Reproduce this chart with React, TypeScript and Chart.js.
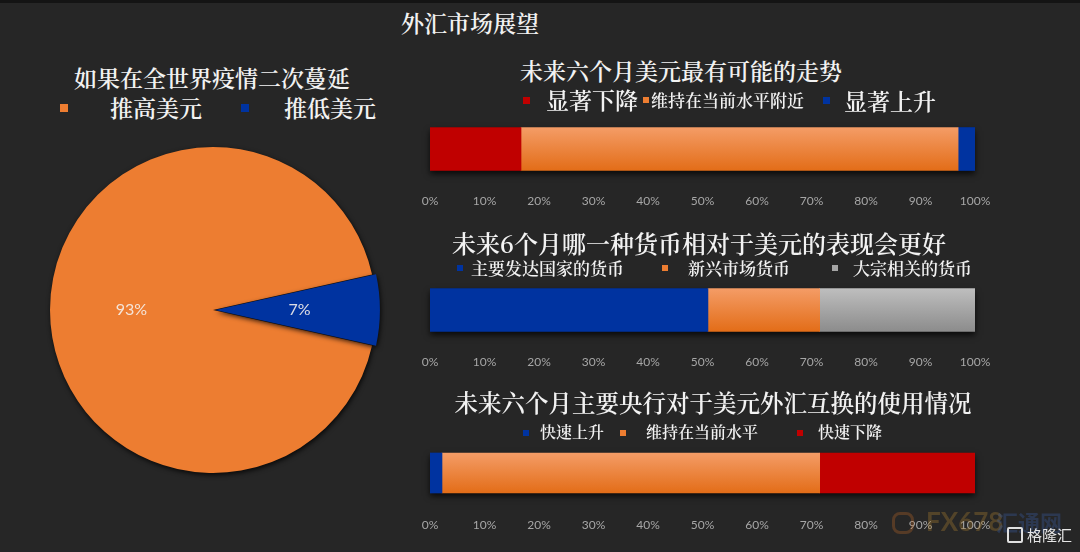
import React, { useEffect, useRef } from "react";
import { Chart, registerables } from "chart.js";

Chart.register(...registerables);

// ---------- data ----------
const pieTitle = "如果在全世界疫情二次蔓延";
const pieLabels = ["推高美元", "推低美元"];
const pieValues = [93, 7];

const trendTitle = "未来六个月美元最有可能的走势";
const trendLabels = ["显著下降", "维持在当前水平附近", "显著上升"];
const trendValues = [16.7, 80.2, 3.1];

const currencyTitle = "未来6个月哪一种货币相对于美元的表现会更好";
const currencyLabels = ["主要发达国家的货币", "新兴市场货币", "大宗相关的货币"];
const currencyValues = [51, 20.5, 28.5];

const swapTitle = "未来六个月主要央行对于美元外汇互换的使用情况";
const swapLabels = ["快速上升", "维持在当前水平", "快速下降"];
const swapValues = [2.2, 69.3, 28.5];

const xTickValues = [0, 10, 20, 30, 40, 50, 60, 70, 80, 90, 100];

// ---------- styles ----------
const RED = "#C00000";
const ORANGE = "#ED7D31";
const BLUE = "#0033A0";
const GRAY = "#A5A5A5";
const BG = "#262626";
const CJK = '"Noto Serif CJK SC", "Noto Sans CJK SC", serif';
const LAT = 'Lato, "Open Sans", sans-serif';

type Fill = { base: string; light?: string; dark?: string };
const F_RED: Fill = { base: RED };
const F_BLUE: Fill = { base: BLUE };
const F_ORANGE: Fill = { base: ORANGE, light: "#F49C66", dark: "#E36D18" };
const F_GRAY: Fill = { base: GRAY, light: "#BEBEBE", dark: "#8C8C8C" };

function makeBg(fill: Fill, thickness: number) {
  if (!fill.light) return fill.base;
  return (ctx: any) => {
    const chart = ctx.chart;
    const area = chart.chartArea;
    if (!area) return fill.base;
    const cy = (area.top + area.bottom) / 2;
    const g = chart.ctx.createLinearGradient(0, cy - thickness / 2, 0, cy + thickness / 2);
    g.addColorStop(0, fill.light!);
    g.addColorStop(1, fill.dark!);
    return g;
  };
}

const barShadow = {
  id: "barShadow",
  beforeDatasetsDraw(chart: any) {
    const meta = chart.getDatasetMeta(0);
    const el = meta.data[0];
    if (!el) return;
    const sx = chart.scales.x;
    let total = 0;
    chart.data.datasets.forEach((d: any) => (total += d.data[0]));
    const x0 = sx.getPixelForValue(0);
    const x1 = sx.getPixelForValue(total);
    const h = el.height;
    const c = chart.ctx;
    c.save();
    c.shadowColor = "rgba(0,0,0,0.75)";
    c.shadowBlur = 6;
    c.shadowOffsetY = 3;
    c.fillStyle = "#111";
    c.fillRect(x0, el.y - h / 2, x1 - x0, h);
    c.restore();
  },
};

const CANVAS_H = 92;

function BarChart(props: {
  values: number[];
  labels: string[];
  fills: Fill[];
  top: number;
  thickness: number;
}) {
  const ref = useRef<HTMLCanvasElement>(null);
  useEffect(() => {
    const chart = new Chart(ref.current!, {
      type: "bar",
      data: {
        labels: [""],
        datasets: props.values.map((v, i) => ({
          label: props.labels[i],
          data: [v],
          backgroundColor: makeBg(props.fills[i], props.thickness) as any,
          borderWidth: 0,
          barThickness: props.thickness,
        })),
      },
      options: {
        indexAxis: "y",
        responsive: false,
        animation: false,
        layout: { padding: { left: 20, right: 20, top: 0, bottom: 4 } },
        plugins: {
          legend: { display: false },
          tooltip: { enabled: false },
          title: { display: false },
        },
        scales: {
          x: {
            stacked: true,
            min: 0,
            max: 100,
            afterBuildTicks: (axis: any) => {
              axis.ticks = xTickValues.map((v) => ({ value: v }));
            },
            afterFit: (axis: any) => {
              axis.height = 28;
              axis.paddingLeft = 0;
              axis.paddingRight = 0;
            },
            ticks: {
              color: "#A6A6A6",
              font: { family: LAT, size: 12 },
              padding: 15,
              maxRotation: 0,
              autoSkip: false,
              callback: (v: any) => v + "%",
            },
            grid: { display: false, drawTicks: false },
            border: { display: false },
          },
          y: { stacked: true, display: false },
        },
      } as any,
      plugins: [barShadow],
    });
    return () => chart.destroy();
  }, []);
  return (
    <canvas
      ref={ref}
      width={585}
      height={CANVAS_H}
      style={{ position: "absolute", left: 410, top: props.top, width: 585, height: CANVAS_H }}
    />
  );
}

const pieDecor = {
  id: "pieDecor",
  beforeDatasetsDraw(chart: any) {
    const c = chart.ctx;
    c.save();
    c.shadowColor = "rgba(0,0,0,0.8)";
    c.shadowBlur = 5;
    c.shadowOffsetX = 1;
    c.shadowOffsetY = 2;
  },
  afterDatasetsDraw(chart: any) {
    const c = chart.ctx;
    c.restore();
    const meta = chart.getDatasetMeta(0);
    c.save();
    c.fillStyle = "rgba(245,240,235,0.9)";
    c.font = `16px ${LAT}`;
    c.textAlign = "center";
    c.textBaseline = "middle";
    meta.data.forEach((arc: any, i: number) => {
      const p = arc.tooltipPosition(true);
      c.fillText(chart.data.datasets[0].data[i] + "%", p.x, p.y);
    });
    c.restore();
  },
};

function PieChart() {
  const ref = useRef<HTMLCanvasElement>(null);
  useEffect(() => {
    const chart = new Chart(ref.current!, {
      type: "pie",
      data: {
        labels: pieLabels,
        datasets: [
          {
            data: pieValues,
            backgroundColor: [ORANGE, BLUE],
            borderWidth: 0,
            offset: [0, 10],
          },
        ],
      },
      options: {
        responsive: false,
        animation: false,
        radius: 163,
        rotation: 90 + (pieValues[1] / 100) * 180,
        plugins: {
          legend: { display: false },
          tooltip: { enabled: false },
        },
      } as any,
      plugins: [pieDecor],
    });
    return () => chart.destroy();
  }, []);
  return (
    <canvas
      ref={ref}
      width={400}
      height={400}
      style={{ position: "absolute", left: 13, top: 110, width: 400, height: 400 }}
    />
  );
}

function Text(props: { x: number; cy: number; size: number; text: string; center?: boolean; color?: string; weight?: number }) {
  const style: React.CSSProperties = {
    position: "absolute",
    top: props.cy - props.size / 2,
    fontSize: props.size,
    lineHeight: `${props.size}px`,
    fontFamily: CJK,
    color: props.color || "#F2F2F2",
    whiteSpace: "nowrap",
    fontWeight: props.weight || 600,
  };
  if (props.center) {
    style.left = props.x - 400;
    style.width = 800;
    style.textAlign = "center";
  } else {
    style.left = props.x;
  }
  return <div style={style}>{props.text}</div>;
}

function Marker(props: { x: number; cy: number; size: number; color: string }) {
  return (
    <div
      style={{
        position: "absolute",
        left: props.x,
        top: props.cy - props.size / 2,
        width: props.size,
        height: props.size,
        background: props.color,
      }}
    />
  );
}

export default function App() {
  useEffect(() => {
    document.body.style.margin = "0";
  }, []);
  return (
    <div
      style={{
        position: "fixed",
        left: 0,
        top: 0,
        width: 1080,
        height: 552,
        background: BG,
        overflow: "hidden",
      }}
    >
      <div style={{ position: "absolute", left: 0, top: 0, width: 1080, height: 3, background: "#141414" }} />
      <Text x={470} cy={22} size={23} text="外汇市场展望" center />

      {/* pie */}
      <Text x={212} cy={77} size={23} text={pieTitle} center />
      <Marker x={60} cy={108} size={8} color={ORANGE} />
      <Text x={110} cy={107} size={23} text={pieLabels[0]} />
      <Marker x={241} cy={108} size={8} color={BLUE} />
      <Text x={284} cy={107} size={23} text={pieLabels[1]} />
      <PieChart />

      {/* chart 1 */}
      <Text x={681} cy={70} size={23} text={trendTitle} center />
      <Marker x={523} cy={100} size={7} color={RED} />
      <Text x={546} cy={99} size={23} text={trendLabels[0]} />
      <Marker x={643} cy={100} size={6} color={ORANGE} />
      <Text x={651} cy={99} size={17} text={trendLabels[1]} />
      <Marker x={823} cy={100} size={7} color={BLUE} />
      <Text x={844} cy={100} size={23} text={trendLabels[2]} />
      <BarChart values={trendValues} labels={trendLabels} fills={[F_RED, F_ORANGE, F_BLUE]} top={118.5} thickness={43} />

      {/* chart 2 */}
      <Text x={699} cy={243} size={24} text={currencyTitle} center />
      <Marker x={457} cy={268} size={6} color={BLUE} />
      <Text x={471} cy={267} size={17} text={currencyLabels[0]} />
      <Marker x={662} cy={268} size={6} color={ORANGE} />
      <Text x={688} cy={267} size={17} text={currencyLabels[1]} />
      <Marker x={832} cy={268} size={6} color={GRAY} />
      <Text x={853} cy={267} size={17} text={currencyLabels[2]} />
      <BarChart values={currencyValues} labels={currencyLabels} fills={[F_BLUE, F_ORANGE, F_GRAY]} top={279.5} thickness={43} />

      {/* chart 3 */}
      <Text x={713} cy={403} size={23.5} text={swapTitle} center />
      <Marker x={523} cy={433} size={6} color={BLUE} />
      <Text x={540} cy={432} size={16} text={swapLabels[0]} />
      <Marker x={620} cy={433} size={6} color={ORANGE} />
      <Text x={646} cy={432} size={16} text={swapLabels[1]} />
      <Marker x={797} cy={433} size={6} color={RED} />
      <Text x={818} cy={432} size={16} text={swapLabels[2]} />
      <BarChart values={swapValues} labels={swapLabels} fills={[F_BLUE, F_ORANGE, F_RED]} top={443} thickness={40} />

      {/* watermark */}
      <div
        style={{
          position: "absolute",
          left: 892,
          top: 512,
          width: 16,
          height: 16,
          borderRadius: 8,
          border: "3px solid rgba(200,110,40,0.3)",
        }}
      />
      <div
        style={{
          position: "absolute",
          left: 926,
          top: 508,
          fontFamily: LAT,
          fontWeight: 700,
          fontSize: 26,
          lineHeight: "26px",
          color: "rgba(190,140,50,0.3)",
        }}
      >
        FX678
      </div>
      <div
        style={{
          position: "absolute",
          left: 996,
          top: 508,
          fontFamily: '"Noto Sans CJK SC", sans-serif',
          fontWeight: 700,
          fontSize: 22,
          lineHeight: "26px",
          color: "rgba(60,100,180,0.3)",
        }}
      >
        汇通网
      </div>
      <div
        style={{
          position: "absolute",
          left: 1007,
          top: 527,
          width: 12,
          height: 12,
          border: "2px solid #E0E0E0",
          borderRadius: 2,
        }}
      />
      <div
        style={{
          position: "absolute",
          left: 1027,
          top: 527,
          fontFamily: '"Noto Sans CJK SC", sans-serif',
          fontSize: 15,
          lineHeight: "16px",
          color: "#E6E6E6",
        }}
      >
        格隆汇
      </div>
    </div>
  );
}
